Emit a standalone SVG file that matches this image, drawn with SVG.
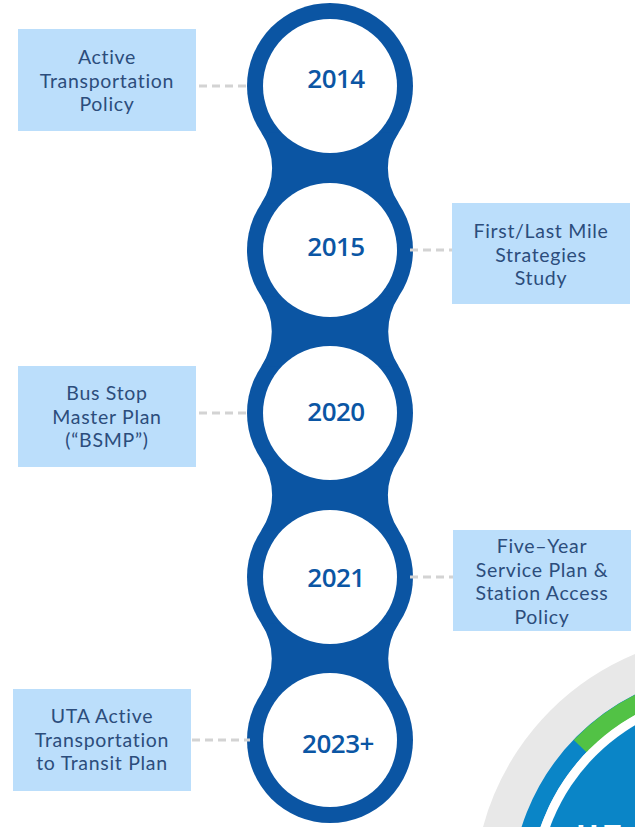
<svg xmlns="http://www.w3.org/2000/svg" width="635" height="827" viewBox="0 0 635 827">
<style>
.box{fill:#BBDEFB;}
.bt{font-family:Lato,"Open Sans","Liberation Sans",sans-serif;font-size:19.5px;fill:#2C4D7C;text-anchor:middle;letter-spacing:0.7px;}
.yr{font-family:"Open Sans","Liberation Sans",sans-serif;font-size:26px;font-weight:600;fill:#0B56A4;text-anchor:middle;letter-spacing:-0.5px;}
.spine{fill:#0B55A3;}
.inner{fill:#FFFFFF;}
.conn{stroke:#D3D3D3;stroke-width:3;stroke-dasharray:8 5;fill:none;}
</style>
<rect width="635" height="827" fill="#FFFFFF"/>
<g id="decoration">
<circle cx="735" cy="895" r="261" fill="#E8E8E8"/>
<circle cx="735" cy="895" r="215" fill="none" stroke="#0A85C7" stroke-width="18"/>
<path d="M 580.3 746.3 A 215 215 0 0 1 735 680" fill="none" stroke="#52C245" stroke-width="18"/>
<circle cx="735" cy="895" r="206" fill="#FFFFFF"/>
<circle cx="735" cy="895" r="197" fill="#0A85C7"/>
<text x="576" y="847" font-family="Open Sans, Liberation Sans, sans-serif" font-size="30" font-weight="700" fill="#FFFFFF" letter-spacing="5">UT</text>
</g>
<g id="spine">
<circle class="spine" cx="330" cy="86" r="83"/>
<circle class="spine" cx="330" cy="250" r="83"/>
<circle class="spine" cx="330" cy="413" r="83"/>
<circle class="spine" cx="330" cy="577" r="83"/>
<circle class="spine" cx="330" cy="740" r="83"/>
<path class="spine" d="M 261.2 132.5 L 398.8 132.5 A 63.2 63.2 0 0 0 398.8 203.5 L 261.2 203.5 A 63.2 63.2 0 0 0 261.2 132.5 Z"/>
<path class="spine" d="M 261.2 296.5 L 398.8 296.5 A 63.2 63.2 0 0 0 398.8 366.5 L 261.2 366.5 A 63.2 63.2 0 0 0 261.2 296.5 Z"/>
<path class="spine" d="M 261.2 459.5 L 398.8 459.5 A 63.2 63.2 0 0 0 398.8 530.5 L 261.2 530.5 A 63.2 63.2 0 0 0 261.2 459.5 Z"/>
<path class="spine" d="M 261.2 623.5 L 398.8 623.5 A 63.2 63.2 0 0 0 398.8 693.5 L 261.2 693.5 A 63.2 63.2 0 0 0 261.2 623.5 Z"/>
</g>
<g id="connectors">
<line class="conn" x1="199" y1="86" x2="250" y2="86"/>
<line class="conn" x1="410" y1="250" x2="452" y2="250"/>
<line class="conn" x1="199" y1="413" x2="250" y2="413"/>
<line class="conn" x1="410" y1="577" x2="453" y2="577"/>
<line class="conn" x1="192" y1="740" x2="250" y2="740"/>
</g>
<g id="y2014">
<circle class="inner" cx="330" cy="86" r="67"/>
<text class="yr" x="336" y="88">2014</text>
</g>
<g id="y2015">
<circle class="inner" cx="330" cy="250" r="67"/>
<text class="yr" x="336" y="256">2015</text>
</g>
<g id="y2020">
<circle class="inner" cx="330" cy="413" r="67"/>
<text class="yr" x="336" y="421">2020</text>
</g>
<g id="y2021">
<circle class="inner" cx="330" cy="577" r="67"/>
<text class="yr" x="336" y="587">2021</text>
</g>
<g id="y2023">
<circle class="inner" cx="330" cy="740" r="67"/>
<text class="yr" x="338" y="753">2023+</text>
</g>
<g id="box-atp">
<rect class="box" x="18" y="29" width="178" height="102"/>
<text class="bt" x="107" y="64">Active</text>
<text class="bt" x="107" y="87.5">Transportation</text>
<text class="bt" x="107" y="111">Policy</text>
</g>
<g id="box-flm">
<rect class="box" x="452" y="203" width="178" height="101"/>
<text class="bt" x="541" y="238">First/Last Mile</text>
<text class="bt" x="541" y="261.5">Strategies</text>
<text class="bt" x="541" y="285">Study</text>
</g>
<g id="box-bsmp">
<rect class="box" x="18" y="366" width="178" height="101"/>
<text class="bt" x="107" y="400">Bus Stop</text>
<text class="bt" x="107" y="423.5">Master Plan</text>
<text class="bt" x="107" y="447">(“BSMP”)</text>
</g>
<g id="box-fysp">
<rect class="box" x="453" y="530" width="178" height="101"/>
<text class="bt" x="542" y="553">Five–Year</text>
<text class="bt" x="542" y="576.5">Service Plan &amp;</text>
<text class="bt" x="542" y="600">Station Access</text>
<text class="bt" x="542" y="623.5">Policy</text>
</g>
<g id="box-uta">
<rect class="box" x="13" y="689" width="178" height="102"/>
<text class="bt" x="102" y="723">UTA Active</text>
<text class="bt" x="102" y="746.5">Transportation</text>
<text class="bt" x="102" y="770">to Transit Plan</text>
</g>
</svg>
